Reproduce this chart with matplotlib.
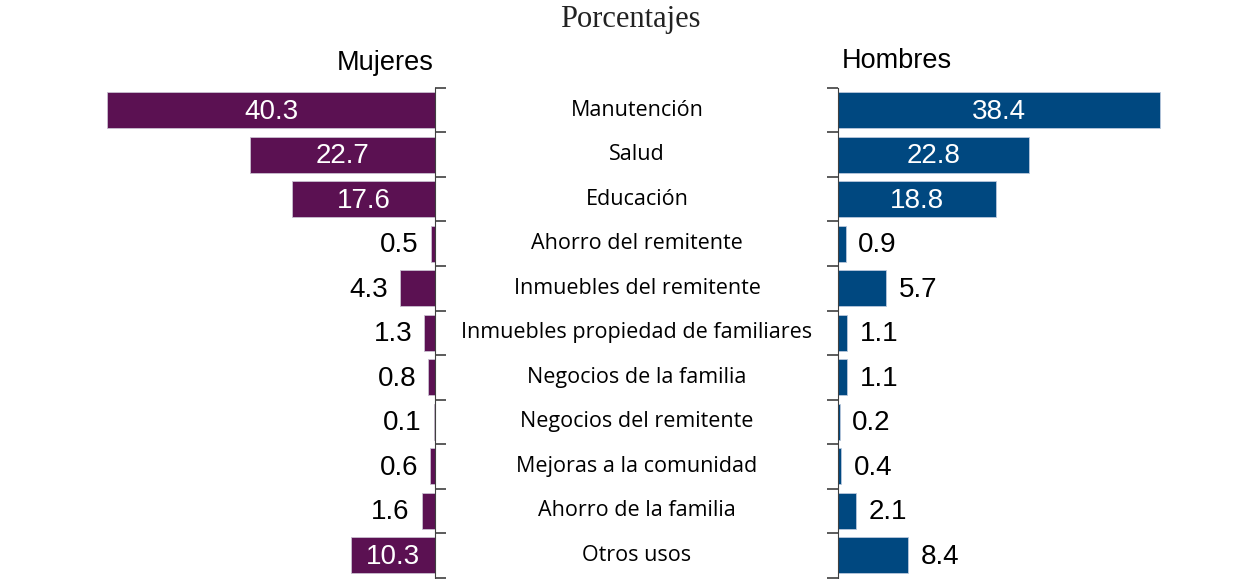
import matplotlib.pyplot as plt
import matplotlib.transforms as mtransforms
import numpy as np

categorias = ["Manutención", "Salud", "Educación", "Ahorro del remitente",
              "Inmuebles del remitente", "Inmuebles propiedad de familiares",
              "Negocios de la familia", "Negocios del remitente",
              "Mejoras a la comunidad", "Ahorro de la familia", "Otros usos"]
mujeres = [40.3, 22.7, 17.6, 0.5, 4.3, 1.3, 0.8, 0.1, 0.6, 1.6, 10.3]
hombres = [38.4, 22.8, 18.8, 0.9, 5.7, 1.1, 1.1, 0.2, 0.4, 2.1, 8.4]

morado = "#5b1152"
azul = "#004880"
W, H = 1252, 579

fig = plt.figure(figsize=(W / 100, H / 100), dpi=100)
y0, y1 = (H - 577.5) / H, (H - 88) / H
ax1 = fig.add_axes([100 / W, y0, 335 / W, y1 - y0])
ax2 = fig.add_axes([838 / W, y0, 342 / W, y1 - y0])

n = len(categorias)
pos = np.arange(n)

for ax, vals, color, xmax, lado in [(ax1, mujeres, morado, 41.16, "izq"),
                                     (ax2, hombres, azul, 40.79, "der")]:
    ax.barh(pos, vals, height=0.8, color=color, edgecolor="#c9c0d0" if lado == "izq" else "#b9c8dc",
            linewidth=0.6)
    ax.set_ylim(n - 0.5, -0.5)
    ax.set_yticks(np.arange(-0.5, n, 1))
    ax.set_yticklabels([])
    ax.set_xticks([])
    for s in ["top", "bottom"]:
        ax.spines[s].set_visible(False)
    if lado == "izq":
        ax.set_xlim(xmax, 0)
        ax.spines["left"].set_visible(False)
        ax.yaxis.tick_right()
        ax.spines["right"].set_color("#404040")
    else:
        ax.set_xlim(0, xmax)
        ax.spines["right"].set_visible(False)
        ax.spines["left"].set_color("#404040")
    ax.tick_params(axis="y", direction="out", length=8, width=1.2, color="#404040")
    for i, v in enumerate(vals):
        if v >= 10:
            ax.text(v / 2, i + 0.03, f"{v:.1f}", ha="center", va="center",
                    color="white", fontsize=20, family="Liberation Sans")
        else:
            off = 1.5
            ax.text(v + off, i + 0.03, f"{v:.1f}", ha="right" if lado == "izq" else "left",
                    va="center", color="black", fontsize=20, family="Liberation Sans")

tr = mtransforms.blended_transform_factory(fig.transFigure, ax2.transData)
for i, c in enumerate(categorias):
    ax2.text(637 / W, i, c, transform=tr, ha="center", va="center",
             fontsize=15.5, family="Open Sans", clip_on=False)

fig.text(434 / W, (H - 63) / H, "Mujeres", ha="right", va="center",
         fontsize=19.5, family="Liberation Sans")
fig.text(842 / W, (H - 61) / H, "Hombres", ha="left", va="center",
         fontsize=19.5, family="Liberation Sans")
fig.text(630 / W, (H - 19) / H, "Porcentajes", ha="center", va="center",
         fontsize=22, family="Liberation Serif", color="#222222")

fig.savefig("out.png", dpi=100)
